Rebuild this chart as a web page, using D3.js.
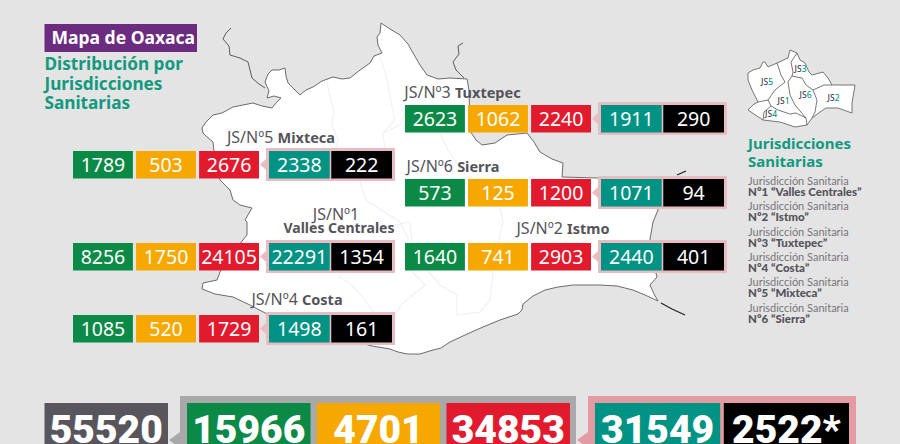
<!DOCTYPE html>
<html>
<head>
<meta charset="utf-8">
<script src="https://cdn.jsdelivr.net/npm/d3@7"></script>
<style>
html, body { margin: 0; padding: 0; background: #e4e4e4; overflow: hidden; }
text { font-family: "Noto Sans", sans-serif; }
</style>
</head>
<body>
<svg id="chart" width="900" height="444"></svg>
<script>
'use strict';
// Mapa de Oaxaca - values per jurisdiccion sanitaria

var jurisdictions = ["Mixteca", "Tuxtepec", "Sierra", "Valles Centrales", "Istmo", "Costa"];
var greenValues = [1789, 2623, 573, 8256, 1640, 1085];
var amberValues = [503, 1062, 125, 1750, 741, 520];
var redValues = [2676, 2240, 1200, 24105, 2903, 1729];
var tealValues = [2338, 1911, 1071, 22291, 2440, 1498];
var blackValues = [222, 290, 94, 1354, 401, 161];

var totalGrey = "55520";
var totalValues = ["15966", "4701", "34853"];
var totalPair = ["31549", "2522*"];

var legendNames = ["N\u00ba1 \u201cValles Centrales\u201d", "N\u00ba2 \u201cIstmo\u201d", "N\u00ba3 \u201cTuxtepec\u201d", "N\u00ba4 \u201cCosta\u201d", "N\u00ba5 \u201cMixteca\u201d", "N\u00ba6 \u201cSierra\u201d"];
var insetLabels = ["JS5", "JS3", "JS6", "JS1", "JS2", "JS4"];

// map shapes
var stateOutline = [[202,128],[206,122],[213,115],[222,113],[233,107],[243,105],[253,103],[262,106],[272,108],[276,103],[281,98],[274,96],[267,98],[269,91],[265,82],[268,74],[272,70],[279,70],[285,68],[286,76],[288,83],[295,90],[300,95],[306,90],[313,87],[322,81],[333,77],[342,79],[350,78],[360,70],[370,63],[374,56],[382,53],[378,45],[377,37],[380,33],[381,23],[390,29],[400,35],[408,44],[413,53],[420,65],[427,75],[438,79],[450,78],[467,79],[469,90],[470,131],[476,140],[482,145],[495,143],[507,135],[527,133],[534,142],[540,152],[552,159],[563,163],[562,177],[597,178],[657,178],[660,190],[658,210],[653,222],[650,239],[653,262],[657,277],[650,285],[654,294],[658,301],[645,295],[633,290],[617,286],[600,285],[573,285],[558,287],[545,290],[533,296],[523,304],[522,310],[518,314],[500,320],[483,327],[465,335],[450,342],[441,348],[433,350],[420,354],[407,354],[398,352],[390,349],[372,346],[350,340],[325,332],[300,325],[267,314],[250,305],[233,297],[215,294],[202,289],[203,283],[217,280],[220,272],[225,262],[247,235],[247,222],[245,220],[252,208],[240,205],[233,200],[230,190],[220,180],[216,170],[213,142],[206,136],[203,133]];
var westLine = [[231,28],[226,33],[223,39],[229,46],[230,55],[240,58],[248,62],[250,70],[252,78],[259,84],[265,88]];
var northLine = [[463,43],[458,46],[459,54],[453,62],[456,70],[464,78]];
var eastTick = [[677,175],[686,171]];
var southTick = [[661,303],[672,309],[685,315]];
var innerLines = [
    [[327,82],[330,98],[334,110],[332,125],[338,140],[336,150]],
    [[380,57],[387,78],[390,97],[395,120],[383,133],[385,150]],
    [[383,133],[400,125],[407,108]],
    [[440,134],[448,150],[466,176]],
    [[360,181],[366,200],[400,222],[410,243]],
    [[500,208],[503,222],[498,243]],
    [[428,271],[440,285],[457,295],[457,315],[480,312],[490,300],[493,271]],
    [[395,225],[410,222],[412,243]],
    [[412,271],[425,285],[402,304],[395,315]],
    [[338,276],[352,285],[365,300],[375,315]]
];

var insetOutline = [[748,73],[753,70],[760,68],[763,62],[765,62],[768,67],[777,63],[788,58],[790,50],[797,53],[800,60],[805,63],[809,72],[812,75],[823,72],[828,78],[832,85],[855,85],[852,103],[852,113],[838,108],[826,108],[820,112],[812,118],[807,125],[795,127],[780,122],[763,120],[748,110],[754,104],[758,102],[752,90],[748,80]];
var insetInner = [
    [[777,63],[781,75],[785,82],[775,90],[768,100],[758,102]],
    [[797,53],[791,62],[793,72],[792,76],[788,82],[790,95],[795,105],[806,118],[807,125]],
    [[792,76],[802,78],[806,85],[813,90],[824,85],[832,85]],
    [[813,90],[817,100],[815,112],[812,118]],
    [[768,100],[771,106],[778,110],[790,114],[796,113],[806,118]],
    [[763,120],[764,112],[771,106]]
];

var green = "#0a8a46", amber = "#f6a800", red = "#e21a2e", teal = "#009283", black = "#000000";
var pink = "#e8bcc2", pinkStrong = "#e39aa3", frameGrey = "#a9a9ab", darkGrey = "#58565c";
var titleTeal = "#12997f", labelGrey = "#55535a";

var svg = d3.select("#chart");
svg.append("rect").attr("width", 900).attr("height", 444).attr("fill", "#e4e4e4");

var outlinePath = d3.line();
var closedPath = d3.line().curve(d3.curveLinearClosed);

// main map
svg.append("path").attr("d", closedPath(stateOutline)).attr("fill", "#ffffff").attr("stroke", "#6b6b6b").attr("stroke-width", 1);
var mapLines = svg.append("g").attr("fill", "none");
mapLines.selectAll("path.inner").data(innerLines).enter().append("path")
    .attr("class", "inner").attr("d", outlinePath).attr("stroke", "#f1f1f1").attr("stroke-width", 1.2);
mapLines.selectAll("path.border").data([westLine, northLine]).enter().append("path")
    .attr("class", "border").attr("d", outlinePath).attr("stroke", "#5c5c5c").attr("stroke-width", 1);
mapLines.selectAll("path.tick").data([eastTick, southTick]).enter().append("path")
    .attr("class", "tick").attr("d", outlinePath).attr("stroke", "#222222").attr("stroke-width", 1.2);

// rows of boxes
var rowPlace = [
    {x: 73, y: 151}, {x: 405, y: 105}, {x: 405, y: 179},
    {x: 73, y: 243}, {x: 405, y: 243}, {x: 73, y: 315}
];
var titlePlace = [
    {x: 281, y: 143}, {x: 462.5, y: 98}, {x: 453, y: 172},
    {x: 339, y: 233}, {x: 563, y: 234}, {x: 297, y: 305}
];

var rowX = d3.scaleBand().domain([0, 1, 2]).range([0, 186]).paddingInner(0.05);
var pairX = d3.scaleBand().domain([0, 1]).range([196, 319]).paddingInner(0.025);

var rows = svg.append("g").selectAll("g")
    .data(jurisdictions)
    .enter()
        .append("g")
            .attr("transform", function(d, i) { return "translate(" + rowPlace[i].x + "," + rowPlace[i].y + ")"; });

rows.append("rect")
    .attr("x", 193).attr("y", -3).attr("width", 129).attr("height", 33)
    .attr("fill", pink);
rows.append("path")
    .attr("d", "M193,8 L187,13.5 L193,19 Z")
    .attr("fill", pink);

function addCell(g, x, y, w, h, fill, value, size, weight) {
    g.append("rect").attr("x", x).attr("y", y).attr("width", w).attr("height", h).attr("fill", fill);
    g.append("text")
        .attr("x", x + w / 2)
        .attr("y", y + h / 2 + size * 0.36)
        .attr("text-anchor", "middle")
        .attr("fill", "#ffffff")
        .style("font-size", size + "px")
        .style("font-weight", weight)
        .text(value);
}

rows.each(function(d, i) {
    var g = d3.select(this);
    var left = [[greenValues[i], green], [amberValues[i], amber], [redValues[i], red]];
    var right = [[tealValues[i], teal], [blackValues[i], black]];
    left.forEach(function(c, k) { addCell(g, rowX(k), 0, rowX.bandwidth(), 27.5, c[1], c[0], 19.5, 400); });
    right.forEach(function(c, k) { addCell(g, pairX(k), 0, pairX.bandwidth(), 27.5, c[1], c[0], 19.5, 400); });
});

// jurisdiction titles
var numbers = [5, 3, 6, 1, 2, 4];
jurisdictions.forEach(function(name, i) {
    var prefix = "JS/N\u00ba" + numbers[i];
    var t = svg.append("text")
        .attr("text-anchor", "middle")
        .attr("fill", labelGrey);
    if (name == "Valles Centrales") {
        t.append("tspan").attr("x", 336).attr("y", 220).style("font-size", "16px").style("font-weight", 400).text(prefix);
        t.append("tspan").attr("x", titlePlace[i].x).attr("y", titlePlace[i].y).style("font-size", "14px").style("font-weight", 700).text(name);
    } else {
        t.attr("x", titlePlace[i].x).attr("y", titlePlace[i].y);
        t.append("tspan").style("font-size", "16px").style("font-weight", 400).text(prefix + " ");
        t.append("tspan").style("font-size", "14.5px").style("font-weight", 700).text(name);
    }
});

// heading
svg.append("rect").attr("x", 44.5).attr("y", 24).attr("width", 152.5).attr("height", 28).attr("fill", "#6b2c80");
svg.append("text").attr("x", 51.5).attr("y", 44).attr("fill", "#ffffff")
    .style("font-size", "17.5px").style("font-weight", 700).text("Mapa de Oaxaca");
svg.append("g").selectAll("text")
    .data(["Distribuci\u00f3n por", "Jurisdicciones", "Sanitarias"])
    .enter().append("text")
        .attr("x", 44.5)
        .attr("y", function(d, i) { return 70 + i * 19.5; })
        .attr("fill", titleTeal)
        .style("font-size", "17.2px")
        .style("font-weight", 700)
        .text(function(d) { return d; });

// inset map
svg.append("path").attr("d", closedPath(insetOutline)).attr("fill", "#ffffff").attr("stroke", "#55555a").attr("stroke-width", 0.8);
svg.append("g").attr("fill", "none").selectAll("path")
    .data(insetInner).enter().append("path")
    .attr("d", outlinePath).attr("stroke", "#55555a").attr("stroke-width", 0.8);
var insetPlace = [[767, 85], [800.5, 72], [805.5, 98], [783.5, 104], [833.5, 101], [771, 117]];
var insetText = svg.append("g").selectAll("text")
    .data(insetLabels).enter().append("text")
        .attr("x", function(d, i) { return insetPlace[i][0]; })
        .attr("y", function(d, i) { return insetPlace[i][1]; })
        .attr("text-anchor", "middle")
        .attr("fill", "#45434a")
        .style("font-size", "8.5px")
        .style("font-weight", 500);
insetText.append("tspan").text(function(d) { return d.slice(0, 2); });
insetText.append("tspan").attr("fill", titleTeal).text(function(d) { return d.slice(2); });

// legend
svg.append("g").selectAll("text")
    .data(["Jurisdicciones", "Sanitarias"])
    .enter().append("text")
        .attr("x", 748)
        .attr("y", function(d, i) { return 149 + i * 18; })
        .attr("fill", titleTeal)
        .style("font-size", "15px")
        .style("font-weight", 700)
        .text(function(d) { return d; });

var legend = svg.append("g").selectAll("g")
    .data(legendNames)
    .enter().append("g")
        .attr("transform", function(d, i) { return "translate(748," + (185 + i * 25.3) + ")"; });
legend.append("text").attr("fill", "#77757b").style("font-family", "Lato").style("font-size", "11px").text("Jurisdicci\u00f3n Sanitaria");
legend.append("text").attr("y", 11).attr("fill", labelGrey).style("font-family", "Lato").style("font-size", "11.5px").style("font-weight", 900)
    .text(function(d) { return d; });

// totals along the bottom
var bottom = svg.append("g");
var totalX = d3.scaleBand().domain([0, 1, 2]).range([187, 570]).paddingInner(0.048);
var totalPairX = d3.scaleBand().domain([0, 1]).range([595, 849]).paddingInner(0.028);

bottom.append("rect").attr("x", 180).attr("y", 396).attr("width", 396).attr("height", 60).attr("fill", frameGrey);
bottom.append("path").attr("d", "M180,432 L169,440 L180,448 Z").attr("fill", frameGrey);
bottom.append("rect").attr("x", 588).attr("y", 396).attr("width", 268).attr("height", 60).attr("fill", pinkStrong);
bottom.append("path").attr("d", "M588,432 L577,440 L588,448 Z").attr("fill", pinkStrong);

function addTotal(x, w, fill, value) {
    bottom.append("rect").attr("x", x).attr("y", 403).attr("width", w).attr("height", 50).attr("fill", fill);
    bottom.append("text")
        .attr("x", x + w / 2)
        .attr("y", 443)
        .attr("text-anchor", "middle")
        .attr("fill", "#ffffff")
        .style("font-family", "Roboto")
        .style("font-size", "39px")
        .style("font-weight", 900)
        .text(value);
}
addTotal(44.5, 123.5, darkGrey, totalGrey);
totalValues.forEach(function(v, k) { addTotal(totalX(k), totalX.bandwidth(), [green, amber, red][k], v); });
totalPair.forEach(function(v, k) { addTotal(totalPairX(k), totalPairX.bandwidth(), [teal, black][k], v); });
</script>
</body>
</html>
